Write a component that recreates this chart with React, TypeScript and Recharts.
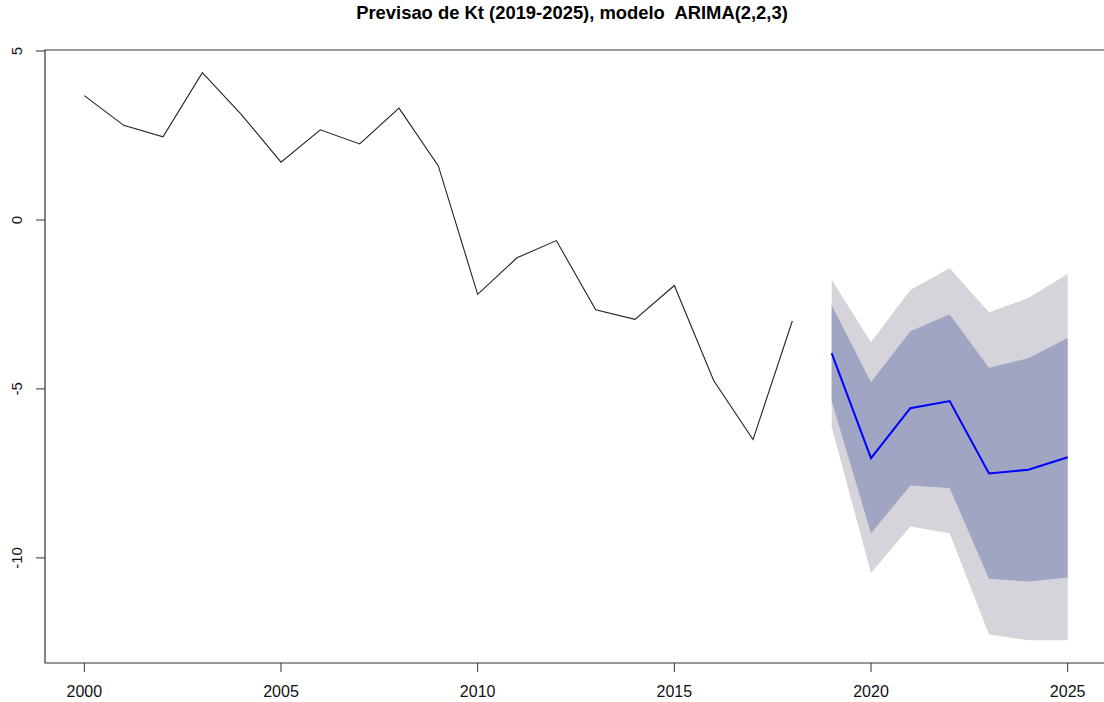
import React from "react";
import {
  ComposedChart,
  Line,
  Area,
  XAxis,
  YAxis,
  ReferenceArea,
} from "recharts";

// Observed Kt series
const histYears = [2000, 2001, 2002, 2003, 2004, 2005, 2006, 2007, 2008, 2009, 2010, 2011, 2012, 2013, 2014, 2015, 2016, 2017, 2018];
const histKt = [3.68, 2.8, 2.46, 4.36, 3.11, 1.71, 2.67, 2.25, 3.31, 1.6, -2.2, -1.12, -0.61, -2.66, -2.94, -1.94, -4.75, -6.5, -2.99];

// ARIMA(2,2,3) forecast with 80% and 95% intervals
const fcYears = [2019, 2020, 2021, 2022, 2023, 2024, 2025];
const fcMean = [-3.94, -7.05, -5.57, -5.36, -7.5, -7.39, -7.02];
const lo80 = [-5.36, -9.27, -7.86, -7.93, -10.62, -10.7, -10.58];
const hi80 = [-2.52, -4.8, -3.29, -2.79, -4.37, -4.09, -3.49];
const lo95 = [-6.12, -10.45, -9.07, -9.27, -12.27, -12.44, -12.44];
const hi95 = [-1.77, -3.62, -2.07, -1.43, -2.73, -2.31, -1.6];

const xTicks = [2000, 2005, 2010, 2015, 2020, 2025];
const yTicks = [-10, -5, 0, 5];

const X_DOMAIN: [number, number] = [1999, 2026];
const Y_DOMAIN: [number, number] = [-13.11, 5.03];

type Row = {
  year: number;
  kt?: number;
  mean?: number;
  band80?: [number, number];
  band95?: [number, number];
};

const rows: Row[] = [
  ...histYears.map((year, i) => ({ year, kt: histKt[i] })),
  ...fcYears.map((year, i) => ({
    year,
    mean: fcMean[i],
    band80: [lo80[i], hi80[i]] as [number, number],
    band95: [lo95[i], hi95[i]] as [number, number],
  })),
];

const FONT = '"Liberation Sans", Arial, Helvetica, sans-serif';
const AXIS = "#333333";

const YTick = (props: any) => {
  const { y, payload } = props;
  return (
    <text
      x={17}
      y={y}
      transform={`rotate(-90, 17, ${y})`}
      textAnchor="middle"
      dominantBaseline="central"
      fontFamily={FONT}
      fontSize={15}
      fill="#111"
    >
      {payload.value}
    </text>
  );
};

const XTick = (props: any) => {
  const { x, payload } = props;
  return (
    <text
      x={x}
      y={691.5}
      textAnchor="middle"
      dominantBaseline="central"
      fontFamily={FONT}
      fontSize={16}
      fill="#111"
    >
      {payload.value}
    </text>
  );
};

export default function App() {
  return (
    <div
      style={{
        position: "absolute",
        left: 0,
        top: 0,
        width: 1104,
        height: 702,
        overflow: "hidden",
        background: "#fff",
      }}
    >
      <div
        style={{
          position: "absolute",
          left: 0,
          width: 1144,
          top: 2,
          textAlign: "center",
          fontFamily: FONT,
          fontWeight: "bold",
          fontSize: 18.4,
          whiteSpace: "pre",
          color: "#000",
        }}
      >
        {"Previsao de Kt (2019-2025), modelo  ARIMA(2,2,3)"}
      </div>
      <ComposedChart
        width={1110}
        height={702}
        data={rows}
        margin={{ top: 50, right: 3, bottom: 0, left: 0 }}
      >
        <XAxis
          dataKey="year"
          type="number"
          domain={X_DOMAIN}
          ticks={xTicks}
          allowDataOverflow
          height={39}
          axisLine={false}
          tickSize={9}
          tickLine={{ stroke: AXIS }}
          tick={<XTick />}
          interval={0}
        />
        <YAxis
          type="number"
          domain={Y_DOMAIN}
          ticks={yTicks}
          allowDataOverflow
          width={45}
          axisLine={false}
          tickSize={9}
          tickLine={{ stroke: AXIS }}
          tick={<YTick />}
          interval={0}
        />
        <Area
          dataKey="band95"
          type="linear"
          stroke="none"
          fill="#d4d4da"
          fillOpacity={1}
          isAnimationActive={false}
          connectNulls={false}
          activeDot={false}
        />
        <Area
          dataKey="band80"
          type="linear"
          stroke="none"
          fill="#a1a5c4"
          fillOpacity={1}
          isAnimationActive={false}
          connectNulls={false}
          activeDot={false}
        />
        <Line
          dataKey="mean"
          type="linear"
          stroke="#0000ff"
          strokeWidth={2}
          dot={false}
          activeDot={false}
          isAnimationActive={false}
        />
        <Line
          dataKey="kt"
          type="linear"
          stroke="#222222"
          strokeWidth={1.1}
          dot={false}
          activeDot={false}
          isAnimationActive={false}
        />
        <ReferenceArea
          x1={X_DOMAIN[0]}
          x2={X_DOMAIN[1]}
          y1={Y_DOMAIN[0]}
          y2={Y_DOMAIN[1]}
          fill="none"
          stroke={AXIS}
          strokeWidth={1.2}
          ifOverflow="visible"
        />
      </ComposedChart>
    </div>
  );
}
